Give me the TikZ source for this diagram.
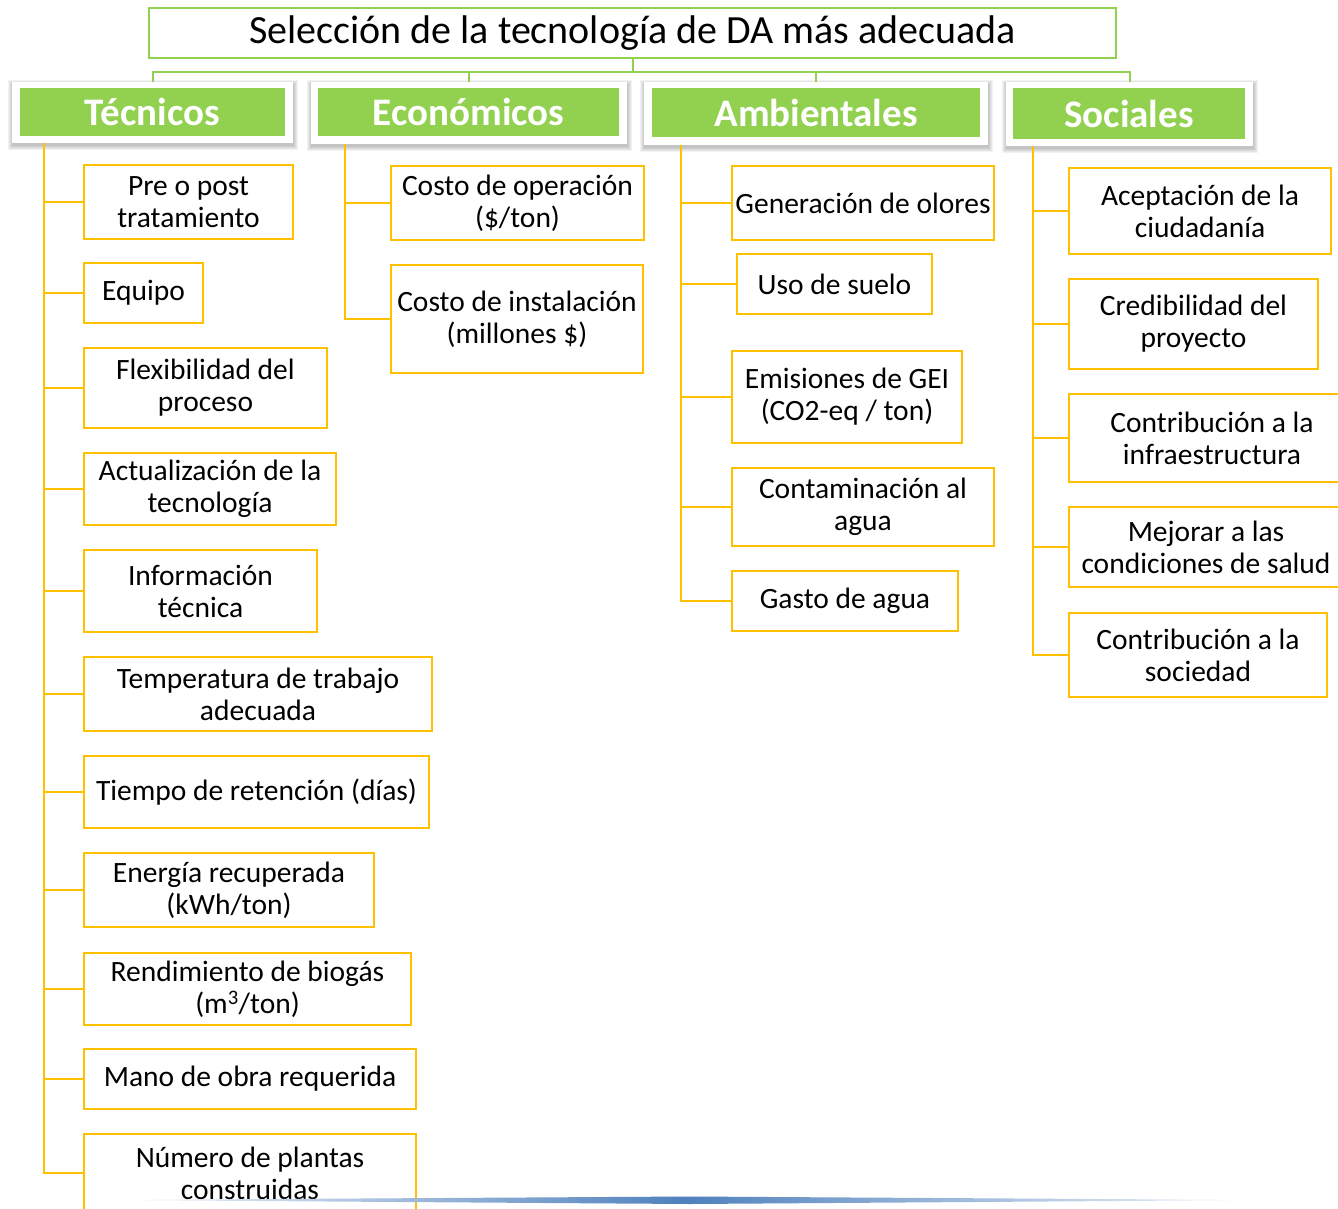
\documentclass[tikz,border=0pt]{standalone}
\usepackage{fontspec}
\setmainfont{Carlito}
\definecolor{hgreen}{HTML}{92D050}
\definecolor{lorange}{HTML}{FFC000}
\definecolor{lblue}{HTML}{4F81BD}
\begin{document}
\begin{tikzpicture}[x=1pt,y=-1pt,
 item/.style={draw=lorange, line width=2pt, fill=white, align=center, inner sep=0pt, font=\fontsize{29.5}{32}\selectfont},
 oline/.style={draw=lorange, line width=2pt},
 gline/.style={draw=hgreen, line width=2pt},
 hframe/.style={fill=white, inner sep=0pt},
 hbox/.style={fill=hgreen, text=white, font=\fontsize{39}{44}\selectfont\bfseries, inner sep=0pt},
 sh/.style={fill=black, opacity=0.05},
]
\useasboundingbox (0,0) rectangle (1338,1209);
\clip (0,0) rectangle (1338,1209);
% title
\node[draw=hgreen, line width=2pt, minimum width=967pt, minimum height=50pt, inner sep=0pt, font=\fontsize{40}{44}\selectfont] (title) at (632.5,33) {Selección de la tecnología de DA más adecuada};
\coordinate (bus) at (632.5,72);
% header shadows
\foreach \xa/\ya/\xb/\yb in {12/82/293/143, 311/82/627/144, 644/82/988/145, 1006/82/1253/146}{
  \foreach \d in {1,2,3,4,5}
    \fill[sh] (\xa-\d+1,\ya+3-\d) rectangle (\xb+\d,\yb+2+\d);
}
% header frames
\node[hframe, minimum width=281pt, minimum height=61pt] (tec) at (152.5,112.5) {};
\node[hframe, minimum width=316pt, minimum height=62pt] (eco) at (469,113) {};
\node[hframe, minimum width=344pt, minimum height=63pt] (amb) at (816,113.5) {};
\node[hframe, minimum width=247pt, minimum height=64pt] (soc) at (1129.5,114) {};
\draw[gline] (title.south) -- (bus);
\draw[gline] (bus) -| (tec.north);
\draw[gline] (bus) -| (eco.north);
\draw[gline] (bus) -| (amb.north);
\draw[gline] (bus) -| (soc.north);
\node[hbox, minimum width=265pt, minimum height=48pt] (tecg) at (152.5,112) {Técnicos};
\node[hbox, minimum width=301pt, minimum height=48pt] (ecog) at (468.5,112) {Económicos};
\node[hbox, minimum width=328pt, minimum height=49pt] (ambg) at (816,112.5) {Ambientales};
\node[hbox, minimum width=232pt, minimum height=51pt] (socg) at (1129,113.5) {Sociales};
% trunk coordinates
\coordinate (tecv) at (44,143);
\coordinate (ecov) at (345,144);
\coordinate (ambv) at (681,145);
\coordinate (socv) at (1033,146);
% Tecnicos items
\node[item, minimum width=209pt, minimum height=74pt] (t1) at (188.5,202) {Pre o post\\tratamiento};
\node[item, minimum width=119pt, minimum height=60pt] (t2) at (143.5,293) {Equipo};
\node[item, minimum width=243pt, minimum height=80pt] (t3) at (205.5,388) {Flexibilidad del\\proceso};
\node[item, minimum width=252pt, minimum height=72pt] (t4) at (210,489) {Actualización de la\\tecnología};
\node[item, minimum width=233pt, minimum height=82pt] (t5) at (200.5,591) {Información\\técnica};
\node[item, minimum width=348pt, minimum height=74pt] (t6) at (258,694) {Temperatura de trabajo\\adecuada};
\node[item, minimum width=345pt, minimum height=72pt] (t7) at (256.5,792) {Tiempo de retención (días)};
\node[item, minimum width=290pt, minimum height=74pt] (t8) at (229,890) {Energía recuperada\\(kWh/ton)};
\node[item, minimum width=327pt, minimum height=72pt] (t9) at (247.5,989) {Rendimiento de biogás\\(m\textsuperscript{3}/ton)};
\node[item, minimum width=332pt, minimum height=60pt] (t10) at (250,1079) {Mano de obra requerida};
\node[item, minimum width=332pt, minimum height=78pt] (t11) at (250,1173) {Número de plantas\\construidas};
\foreach \n in {t1,t2,t3,t4,t5,t6,t7,t8,t9,t10,t11} \draw[oline] (tecv) |- (\n.west);
% Economicos items
\node[item, minimum width=253pt, minimum height=74pt] (e1) at (517.5,203) {Costo de operación\\(\$/ton)};
\node[item, minimum width=252pt, minimum height=108pt] (e2) at (517,319) {Costo de instalación\\(millones \$)};
\foreach \n in {e1,e2} \draw[oline] (ecov) |- (\n.west);
% Ambientales items
\node[item, minimum width=262pt, minimum height=74pt] (a1) at (863,203) {Generación de olores};
\node[item, minimum width=195pt, minimum height=60pt] (a2) at (834.5,284) {Uso de suelo};
\node[item, minimum width=230pt, minimum height=92pt] (a3) at (847,397) {Emisiones de GEI\\(CO2-eq / ton)};
\node[item, minimum width=262pt, minimum height=78pt] (a4) at (863,507) {Contaminación al\\agua};
\node[item, minimum width=226pt, minimum height=60pt] (a5) at (845,601) {Gasto de agua};
\foreach \n in {a1,a2,a3,a4,a5} \draw[oline] (ambv) |- (\n.west);
% Sociales items
\node[item, minimum width=262pt, minimum height=86pt] (s1) at (1200,211) {Aceptación de la\\ciudadanía};
\node[item, minimum width=249pt, minimum height=90pt] (s2) at (1193.5,324) {Credibilidad del\\proyecto};
\node[item, minimum width=286pt, minimum height=88pt] (s3) at (1212,438) {Contribución a la\\infraestructura};
\node[item, minimum width=274pt, minimum height=80pt] (s4) at (1206,547) {Mejorar a las\\condiciones de salud};
\node[item, minimum width=258pt, minimum height=84pt] (s5) at (1198,655) {Contribución a la\\sociedad};
\foreach \n in {s1,s2,s3,s4,s5} \draw[oline] (socv) |- (\n.west);
% bottom decorative line
\shade[left color=lblue!5, right color=lblue!5, middle color=lblue] (110,1200) -- (690,1196.5) -- (1260,1200) -- (690,1204) -- cycle;
\end{tikzpicture}
\end{document}
